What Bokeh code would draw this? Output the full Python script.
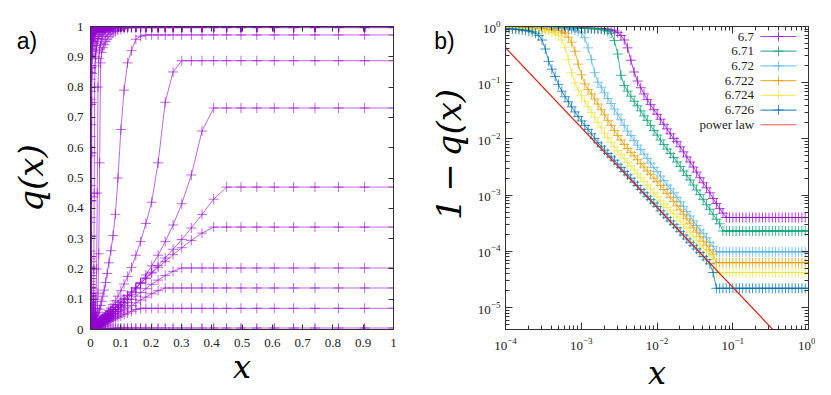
from bokeh.plotting import figure
from bokeh.layouts import row
from bokeh.models import Range1d, FixedTicker, LinearAxis, LogAxis, Label, CustomJSTickFormatter
from bokeh.embed import file_html
from bokeh.resources import INLINE

# ---------------- data ----------------
# sampling grid read off the markers: x_k = exp(-k/10), k = 0..92
x_grid = [
    1.0, 0.9048, 0.8187, 0.7408, 0.6703, 0.6065, 0.5488, 0.4966, 0.4493, 0.4066,
    0.3679, 0.3329, 0.3012, 0.2725, 0.2466, 0.2231, 0.2019, 0.1827, 0.1653, 0.1496,
    0.1353, 0.1225, 0.1108, 0.1003, 0.09072, 0.08208, 0.07427, 0.06721, 0.06081, 0.05502,
    0.04979, 0.04505, 0.04076, 0.03688, 0.03337, 0.03020, 0.02732, 0.02472, 0.02237, 0.02024,
    0.01832, 0.01657, 0.01500, 0.01357, 0.01228, 0.01111, 0.01005, 0.009095, 0.008230, 0.007447,
    0.006738, 0.006097, 0.005517, 0.004992, 0.004517, 0.004087, 0.003698, 0.003346, 0.003028, 0.002739,
    0.002479, 0.002243, 0.002029, 0.001836, 0.001662, 0.001503, 0.001360, 0.001231, 0.001114, 0.001008,
    0.0009119, 0.0008251, 0.0007466, 0.0006755, 0.0006113, 0.0005531, 0.0005005, 0.0004528, 0.0004097, 0.0003707,
    0.0003355, 0.0003035, 0.0002747, 0.0002485, 0.0002249, 0.0002035, 0.0001841, 0.0001666, 0.0001507, 0.0001364,
    0.0001234, 0.0001117, 0.0001010,
]

# panel b): 1 - q(x) for each parameter value
b_labels = ["6.7", "6.71", "6.72", "6.722", "6.724", "6.726"]
b_colors = ["#9400D3", "#009E73", "#56B4E9", "#E69F00", "#F0E442", "#0072B2"]

omq_6_7 = [
    4.0e-4, 4.0e-4, 4.0e-4, 4.0e-4, 4.0e-4, 4.0e-4, 4.0e-4, 4.0e-4, 4.0e-4, 4.0e-4,
    4.0e-4, 4.0e-4, 4.0e-4, 4.0e-4, 4.0e-4, 4.0e-4, 4.0e-4, 4.0e-4, 4.0e-4, 4.0e-4,
    4.0e-4, 4.0e-4, 4.0e-4, 4.0e-4, 4.0e-4, 4.0e-4, 4.79e-4, 5.75e-4, 7.08e-4, 8.71e-4,
    1.10e-3, 1.35e-3, 1.66e-3, 2.04e-3, 2.57e-3, 3.16e-3, 3.89e-3, 4.79e-3, 5.89e-3, 7.24e-3,
    8.91e-3, 1.02e-2, 1.23e-2, 1.51e-2, 1.82e-2, 2.24e-2, 2.75e-2, 3.31e-2, 4.07e-2, 5.01e-2,
    6.31e-2, 8.13e-2, 0.107, 0.155, 0.251, 0.417, 0.575, 0.692, 0.776, 0.832,
    0.863, 0.887, 0.910, 0.918, 0.923, 0.929, 0.933, 0.938, 0.942, 0.946,
    0.951, 0.955, 0.957, 0.959, 0.964, 0.966, 0.968, 0.971, 0.973, 0.975,
    0.977, 0.977, 0.979, 0.979, 0.982, 0.982, 0.984, 0.984, 0.986, 0.986,
    0.986, 0.989, 0.989,
]
omq_6_71 = [
    2.3e-4, 2.3e-4, 2.3e-4, 2.3e-4, 2.3e-4, 2.3e-4, 2.3e-4, 2.3e-4, 2.3e-4, 2.3e-4,
    2.3e-4, 2.3e-4, 2.3e-4, 2.3e-4, 2.3e-4, 2.3e-4, 2.3e-4, 2.3e-4, 2.3e-4, 2.3e-4,
    2.3e-4, 2.3e-4, 2.3e-4, 2.3e-4, 2.3e-4, 2.3e-4, 2.3e-4, 3.09e-4, 3.72e-4, 4.57e-4,
    5.62e-4, 6.76e-4, 8.32e-4, 1.02e-3, 1.23e-3, 1.51e-3, 1.86e-3, 2.24e-3, 2.69e-3, 3.24e-3,
    3.89e-3, 4.68e-3, 5.50e-3, 6.61e-3, 7.94e-3, 9.55e-3, 1.17e-2, 1.41e-2, 1.74e-2, 2.14e-2,
    2.57e-2, 3.16e-2, 3.89e-2, 4.68e-2, 5.75e-2, 7.08e-2, 8.91e-2, 0.135, 0.324, 0.562,
    0.759, 0.822, 0.861, 0.887, 0.900, 0.908, 0.914, 0.920, 0.927, 0.933,
    0.938, 0.942, 0.946, 0.948, 0.951, 0.953, 0.955, 0.957, 0.959, 0.962,
    0.964, 0.966, 0.968, 0.971, 0.973, 0.973, 0.975, 0.975, 0.977, 0.977,
    0.979, 0.979, 0.982,
]
omq_6_72 = [
    9.8e-5, 9.8e-5, 9.8e-5, 9.8e-5, 9.8e-5, 9.8e-5, 9.8e-5, 9.8e-5, 9.8e-5, 9.8e-5,
    9.8e-5, 9.8e-5, 9.8e-5, 9.8e-5, 9.8e-5, 9.8e-5, 9.8e-5, 9.8e-5, 9.8e-5, 9.8e-5,
    9.8e-5, 9.8e-5, 9.8e-5, 9.8e-5, 9.8e-5, 9.8e-5, 9.8e-5, 9.8e-5, 9.8e-5, 1.23e-4,
    1.45e-4, 1.74e-4, 2.09e-4, 2.40e-4, 2.88e-4, 3.47e-4, 4.27e-4, 5.13e-4, 6.31e-4, 7.59e-4,
    9.12e-4, 1.10e-3, 1.29e-3, 1.51e-3, 1.82e-3, 2.19e-3, 2.63e-3, 3.09e-3, 3.72e-3, 4.47e-3,
    5.37e-3, 6.46e-3, 7.76e-3, 9.33e-3, 1.15e-2, 1.38e-2, 1.74e-2, 2.19e-2, 2.75e-2, 3.39e-2,
    4.27e-2, 5.25e-2, 6.61e-2, 8.32e-2, 0.102, 0.151, 0.257, 0.417, 0.631, 0.767,
    0.813, 0.861, 0.881, 0.895, 0.908, 0.918, 0.929, 0.938, 0.944, 0.951,
    0.955, 0.959, 0.962, 0.964, 0.966, 0.968, 0.971, 0.973, 0.973, 0.975,
    0.975, 0.977, 0.977,
]
omq_6_722 = [
    6.3e-5, 6.3e-5, 6.3e-5, 6.3e-5, 6.3e-5, 6.3e-5, 6.3e-5, 6.3e-5, 6.3e-5, 6.3e-5,
    6.3e-5, 6.3e-5, 6.3e-5, 6.3e-5, 6.3e-5, 6.3e-5, 6.3e-5, 6.3e-5, 6.3e-5, 6.3e-5,
    6.3e-5, 6.3e-5, 6.3e-5, 6.3e-5, 6.3e-5, 6.3e-5, 6.3e-5, 6.3e-5, 6.3e-5, 8.9e-5,
    1.07e-4, 1.29e-4, 1.51e-4, 1.82e-4, 2.19e-4, 2.63e-4, 3.16e-4, 3.80e-4, 4.57e-4, 5.50e-4,
    6.46e-4, 7.76e-4, 9.12e-4, 1.07e-3, 1.26e-3, 1.48e-3, 1.74e-3, 2.00e-3, 2.34e-3, 2.69e-3,
    3.16e-3, 3.63e-3, 4.27e-3, 5.01e-3, 5.75e-3, 6.76e-3, 7.94e-3, 9.55e-3, 1.15e-2, 1.41e-2,
    1.74e-2, 2.14e-2, 2.69e-2, 3.31e-2, 4.17e-2, 5.13e-2, 6.31e-2, 7.59e-2, 9.55e-2, 0.138,
    0.214, 0.363, 0.525, 0.646, 0.759, 0.794, 0.851, 0.865, 0.877, 0.889,
    0.902, 0.912, 0.920, 0.927, 0.933, 0.940, 0.944, 0.948, 0.953, 0.957,
    0.959, 0.964, 0.966,
]
omq_6_724 = [
    4.2e-5, 4.2e-5, 4.2e-5, 4.2e-5, 4.2e-5, 4.2e-5, 4.2e-5, 4.2e-5, 4.2e-5, 4.2e-5,
    4.2e-5, 4.2e-5, 4.2e-5, 4.2e-5, 4.2e-5, 4.2e-5, 4.2e-5, 4.2e-5, 4.2e-5, 4.2e-5,
    4.2e-5, 4.2e-5, 4.2e-5, 4.2e-5, 4.2e-5, 4.2e-5, 4.2e-5, 4.2e-5, 4.2e-5, 7.2e-5,
    8.5e-5, 1.0e-4, 1.15e-4, 1.35e-4, 1.58e-4, 1.86e-4, 2.19e-4, 2.57e-4, 2.99e-4, 3.47e-4,
    4.07e-4, 4.68e-4, 5.37e-4, 6.03e-4, 6.92e-4, 7.94e-4, 9.33e-4, 1.10e-3, 1.29e-3, 1.51e-3,
    1.74e-3, 2.04e-3, 2.40e-3, 2.82e-3, 3.31e-3, 3.80e-3, 4.47e-3, 5.25e-3, 6.17e-3, 7.24e-3,
    8.71e-3, 1.05e-2, 1.26e-2, 1.58e-2, 1.95e-2, 2.45e-2, 2.95e-2, 3.72e-2, 4.68e-2, 5.89e-2,
    7.41e-2, 0.100, 0.151, 0.257, 0.427, 0.575, 0.692, 0.741, 0.794, 0.822,
    0.841, 0.861, 0.881, 0.891, 0.902, 0.912, 0.918, 0.925, 0.931, 0.938,
    0.944, 0.951, 0.955,
]
omq_6_726 = [
    2.2e-5, 2.2e-5, 2.2e-5, 2.2e-5, 2.2e-5, 2.2e-5, 2.2e-5, 2.2e-5, 2.2e-5, 2.2e-5,
    2.2e-5, 2.2e-5, 2.2e-5, 2.2e-5, 2.2e-5, 2.2e-5, 2.2e-5, 2.2e-5, 2.2e-5, 2.2e-5,
    2.2e-5, 2.2e-5, 2.2e-5, 2.2e-5, 2.2e-5, 2.2e-5, 2.2e-5, 2.2e-5, 2.2e-5, 4.2e-5,
    6.0e-5, 7.1e-5, 8.1e-5, 9.5e-5, 1.10e-4, 1.26e-4, 1.45e-4, 1.66e-4, 1.95e-4, 2.24e-4,
    2.63e-4, 3.02e-4, 3.47e-4, 3.98e-4, 4.57e-4, 5.25e-4, 6.31e-4, 7.24e-4, 8.32e-4, 9.55e-4,
    1.10e-3, 1.26e-3, 1.48e-3, 1.70e-3, 2.00e-3, 2.29e-3, 2.63e-3, 3.09e-3, 3.55e-3, 4.17e-3,
    4.79e-3, 5.50e-3, 6.31e-3, 7.41e-3, 8.51e-3, 1.02e-2, 1.23e-2, 1.48e-2, 1.74e-2, 2.09e-2,
    2.51e-2, 3.02e-2, 3.72e-2, 4.57e-2, 5.62e-2, 7.08e-2, 9.33e-2, 0.129, 0.174, 0.240,
    0.398, 0.575, 0.692, 0.759, 0.804, 0.832, 0.851, 0.871, 0.881, 0.891,
    0.902, 0.912, 0.923,
]
b_series = [omq_6_7, omq_6_71, omq_6_72, omq_6_722, omq_6_724, omq_6_726]

power_law_label = "power law"
power_law_x = [1.0e-4, 1.0]
power_law_y = [0.42, 8.7e-7]

# panel a): further q(x) curves (points k = 0..60 of the grid)
q_a_000 = [
    0.0, 0.0, 0.0, 0.0, 0.0, 0.0, 0.0, 0.0, 0.0, 0.0,
    0.0, 0.0, 0.0, 0.0, 0.0, 0.0, 0.0, 0.0, 0.0, 0.0,
    0.0, 0.0, 0.0, 0.0, 0.0, 0.0, 0.0, 0.0, 0.0, 0.0,
    0.0, 0.0, 0.0, 0.0, 0.0, 0.0, 0.0, 0.0, 0.0, 0.0,
    0.0, 0.0, 0.0, 0.0, 0.0, 0.0, 0.0, 0.0, 0.0, 0.0,
    0.0, 0.0, 0.0, 0.0, 0.0, 0.0, 0.0, 0.0, 0.0, 0.0,
    0.0,
]
q_a_005 = [
    0.005, 0.005, 0.005, 0.005, 0.005, 0.005, 0.005, 0.005, 0.005, 0.005,
    0.005, 0.005, 0.005, 0.005, 0.005, 0.005, 0.005, 0.005, 0.005, 0.005,
    0.005, 0.005, 0.005, 0.005, 0.0045, 0.0041, 0.0037, 0.0034, 0.0030, 0.0028,
    0.0025, 0.0023, 0.0020, 0.0018, 0.0017, 0.0015, 0.0014, 0.0012, 0.0011, 0.0010,
    0.0009, 0.0008, 0.00075, 0.0007, 0.0006, 0.00055, 0.0005, 0.00045, 0.0004, 0.00037,
    0.00034, 0.0003, 0.00028, 0.00025, 0.00023, 0.0002, 0.00018, 0.00017, 0.00015, 0.00014,
    0.00012,
]
q_a_070 = [
    0.070, 0.070, 0.070, 0.070, 0.070, 0.070, 0.070, 0.070, 0.070, 0.070,
    0.070, 0.070, 0.070, 0.070, 0.070, 0.070, 0.070, 0.070, 0.070, 0.066,
    0.060, 0.054, 0.049, 0.044, 0.040, 0.036, 0.032, 0.029, 0.026, 0.024,
    0.021, 0.019, 0.017, 0.016, 0.014, 0.013, 0.0115, 0.0104, 0.0094, 0.0085,
    0.0077, 0.0070, 0.0063, 0.0057, 0.0052, 0.0047, 0.0042, 0.0038, 0.0034, 0.0031,
    0.0028, 0.0025, 0.0023, 0.0021, 0.0019, 0.0017, 0.0015, 0.0014, 0.0013, 0.0011,
    0.0010,
]
q_a_137 = [
    0.137, 0.137, 0.137, 0.137, 0.137, 0.137, 0.137, 0.137, 0.137, 0.137,
    0.137, 0.137, 0.137, 0.137, 0.137, 0.128, 0.118, 0.107, 0.097, 0.088,
    0.079, 0.071, 0.064, 0.058, 0.052, 0.047, 0.042, 0.038, 0.034, 0.031,
    0.028, 0.025, 0.023, 0.021, 0.019, 0.017, 0.015, 0.014, 0.0125, 0.0113,
    0.0102, 0.0093, 0.0084, 0.0076, 0.0069, 0.0062, 0.0056, 0.0051, 0.0046, 0.0041,
    0.0037, 0.0034, 0.0031, 0.0028, 0.0025, 0.0023, 0.0021, 0.0019, 0.0017, 0.0015,
    0.0014,
]
q_a_203 = [
    0.203, 0.203, 0.203, 0.203, 0.203, 0.203, 0.203, 0.203, 0.203, 0.203,
    0.203, 0.203, 0.203, 0.192, 0.178, 0.163, 0.149, 0.135, 0.122, 0.110,
    0.099, 0.089, 0.080, 0.072, 0.065, 0.059, 0.053, 0.048, 0.043, 0.039,
    0.035, 0.032, 0.029, 0.026, 0.023, 0.021, 0.019, 0.017, 0.0155, 0.014,
    0.0126, 0.0114, 0.0103, 0.0093, 0.0084, 0.0076, 0.0069, 0.0062, 0.0056, 0.0051,
    0.0046, 0.0042, 0.0038, 0.0034, 0.0031, 0.0028, 0.0025, 0.0023, 0.0021, 0.0019,
    0.0017,
]
q_a_338 = [
    0.338, 0.338, 0.338, 0.338, 0.338, 0.338, 0.338, 0.338, 0.338, 0.338,
    0.318, 0.294, 0.270, 0.247, 0.225, 0.205, 0.186, 0.168, 0.152, 0.137,
    0.123, 0.111, 0.100, 0.090, 0.081, 0.073, 0.066, 0.059, 0.053, 0.048,
    0.043, 0.039, 0.035, 0.032, 0.029, 0.026, 0.023, 0.021, 0.019, 0.017,
    0.0155, 0.014, 0.0126, 0.0114, 0.0103, 0.0093, 0.0084, 0.0076, 0.0068, 0.0062,
    0.0056, 0.0050, 0.0045, 0.0041, 0.0037, 0.0033, 0.0030, 0.0027, 0.0025, 0.0022,
    0.0020,
]
q_a_470 = [
    0.470, 0.470, 0.470, 0.470, 0.470, 0.470, 0.470, 0.470, 0.470, 0.430,
    0.380, 0.335, 0.297, 0.265, 0.236, 0.211, 0.189, 0.170, 0.153, 0.138,
    0.124, 0.112, 0.101, 0.091, 0.082, 0.074, 0.066, 0.060, 0.054, 0.048,
    0.044, 0.039, 0.035, 0.032, 0.029, 0.026, 0.023, 0.021, 0.019, 0.017,
    0.015, 0.0135, 0.0121, 0.0109, 0.0098, 0.0088, 0.0079, 0.0071, 0.0064, 0.0058,
    0.0052, 0.0047, 0.0042, 0.0038, 0.0034, 0.0031, 0.0028, 0.0025, 0.0022, 0.0020,
    0.0018,
]
q_a_731 = [
    0.731, 0.731, 0.731, 0.731, 0.731, 0.731, 0.731, 0.731, 0.731, 0.731,
    0.655, 0.510, 0.415, 0.345, 0.290, 0.245, 0.210, 0.180, 0.155, 0.134,
    0.116, 0.101, 0.088, 0.077, 0.067, 0.059, 0.052, 0.046, 0.040, 0.036,
    0.032, 0.028, 0.025, 0.022, 0.020, 0.018, 0.016, 0.014, 0.0125, 0.011,
    0.010, 0.009, 0.008, 0.0072, 0.0064, 0.0058, 0.0052, 0.0046, 0.0042, 0.0037,
    0.0034, 0.0030, 0.0027, 0.0024, 0.0022, 0.0020, 0.0018, 0.0016, 0.0014, 0.0013,
    0.0012,
]
q_a_887 = [
    0.887, 0.887, 0.887, 0.887, 0.887, 0.887, 0.887, 0.887, 0.887, 0.887,
    0.887, 0.887, 0.887, 0.850, 0.750, 0.550, 0.420, 0.350, 0.290, 0.245,
    0.205, 0.175, 0.150, 0.128, 0.110, 0.095, 0.082, 0.071, 0.062, 0.054,
    0.047, 0.041, 0.036, 0.031, 0.027, 0.024, 0.021, 0.018, 0.016, 0.014,
    0.012, 0.011, 0.0095, 0.0084, 0.0074, 0.0065, 0.0057, 0.0050, 0.0044, 0.0039,
    0.0034, 0.0030, 0.0027, 0.0024, 0.0021, 0.0018, 0.0016, 0.0014, 0.0013, 0.0011,
    0.0010,
]
q_a_972 = [
    0.972, 0.972, 0.972, 0.972, 0.972, 0.972, 0.972, 0.972, 0.972, 0.972,
    0.972, 0.972, 0.972, 0.972, 0.972, 0.972, 0.972, 0.972, 0.968, 0.958,
    0.920, 0.880, 0.790, 0.660, 0.500, 0.380, 0.310, 0.260, 0.220, 0.185,
    0.155, 0.130, 0.110, 0.093, 0.079, 0.067, 0.057, 0.048, 0.041, 0.035,
    0.030, 0.025, 0.021, 0.018, 0.015, 0.013, 0.011, 0.0093, 0.0079, 0.0067,
    0.0057, 0.0048, 0.0041, 0.0035, 0.0030, 0.0025, 0.0021, 0.0018, 0.0015, 0.0013,
    0.0011,
]
q_a_996 = [
    0.996, 0.996, 0.996, 0.996, 0.996, 0.996, 0.996, 0.996, 0.996, 0.996,
    0.996, 0.996, 0.996, 0.996, 0.996, 0.996, 0.996, 0.996, 0.996, 0.996,
    0.996, 0.995, 0.993, 0.990, 0.987, 0.983, 0.978, 0.972, 0.966, 0.958,
    0.950, 0.940, 0.930, 0.915, 0.880, 0.550, 0.250, 0.120, 0.070, 0.045,
    0.030, 0.020, 0.014, 0.010, 0.007, 0.005, 0.0035, 0.0025, 0.0018, 0.0013,
    0.0010, 0.0007, 0.0005, 0.0004, 0.0003, 0.0002, 0.00015, 0.0001, 0.0001, 0.0001,
    0.0001,
]
q_a_998 = [
    0.998, 0.998, 0.998, 0.998, 0.998, 0.998, 0.998, 0.998, 0.998, 0.998,
    0.998, 0.998, 0.998, 0.998, 0.998, 0.998, 0.998, 0.998, 0.998, 0.998,
    0.998, 0.998, 0.998, 0.997, 0.996, 0.995, 0.993, 0.991, 0.988, 0.985,
    0.980, 0.975, 0.968, 0.958, 0.945, 0.925, 0.895, 0.800, 0.450, 0.200,
    0.100, 0.055, 0.033, 0.021, 0.014, 0.0095, 0.0065, 0.0045, 0.0030, 0.0020,
    0.0014, 0.0010, 0.0007, 0.0005, 0.0004, 0.0003, 0.0002, 0.00015, 0.0001, 0.0001,
    0.0001,
]
q_a_999 = [
    0.999, 0.999, 0.999, 0.999, 0.999, 0.999, 0.999, 0.999, 0.999, 0.999,
    0.999, 0.999, 0.999, 0.999, 0.999, 0.999, 0.999, 0.999, 0.999, 0.999,
    0.999, 0.999, 0.999, 0.999, 0.999, 0.9985, 0.998, 0.997, 0.996, 0.995,
    0.993, 0.991, 0.988, 0.985, 0.980, 0.975, 0.968, 0.960, 0.950, 0.937,
    0.920, 0.900, 0.870, 0.800, 0.450, 0.200, 0.100, 0.050, 0.030, 0.018,
    0.011, 0.007, 0.0045, 0.003, 0.002, 0.0013, 0.0009, 0.0006, 0.0004, 0.0003,
    0.0002,
]
a_series = [q_a_000, q_a_005, q_a_070, q_a_137, q_a_203, q_a_338, q_a_470,
            q_a_731, q_a_887, q_a_972, q_a_996, q_a_998, q_a_999]

# axis ticks
a_ticks = [0, 0.1, 0.2, 0.3, 0.4, 0.5, 0.6, 0.7, 0.8, 0.9, 1]
a_tick_labels = ["0", "0.1", "0.2", "0.3", "0.4", "0.5", "0.6", "0.7", "0.8", "0.9", "1"]
b_x_ticks = [1e-4, 1e-3, 1e-2, 1e-1, 1.0]
b_y_ticks = [1e-5, 1e-4, 1e-3, 1e-2, 1e-1, 1.0]
b_x_minor = [m * 10.0 ** e for e in range(-4, 0) for m in range(2, 10)]
b_y_minor = [m * 10.0 ** e for e in range(-6, 0) for m in range(2, 10)]

# ---------------- style ----------------
PURPLE = "#9400D3"
RED = "#E51E10"
FRAME = "#333333"
TXT = "#222222"
SERIF = "Liberation Serif"
MATH = "DejaVu Serif"
SANS = "Liberation Sans"
H = 360   # frame height of the label strips (their tops line up with the plot frames)


def style_axis(ax, major_len, minor_len, show_labels=True, standoff=6):
    ax.axis_line_color = FRAME
    ax.axis_line_width = 1
    ax.major_tick_line_color = FRAME
    ax.minor_tick_line_color = FRAME if minor_len else None
    ax.major_tick_in = major_len
    ax.major_tick_out = 0
    ax.minor_tick_in = minor_len
    ax.minor_tick_out = 0
    ax.major_label_text_font = SERIF
    ax.major_label_text_color = TXT
    if show_labels:
        ax.major_label_text_font_size = "13px"
        ax.major_label_standoff = standoff
    else:
        ax.major_label_text_font_size = "0px"
        ax.major_label_standoff = 0
        ax.formatter = CustomJSTickFormatter(code="return '';")


def style_xlabel(ax, text, standoff):
    ax.axis_label = text
    ax.axis_label_text_font = MATH
    ax.axis_label_text_font_style = "italic"
    ax.axis_label_text_font_size = "32px"
    ax.axis_label_text_color = "black"
    ax.axis_label_standoff = standoff


def base_fig(**kw):
    p = figure(frame_width=303, frame_height=303, output_backend="svg",
               toolbar_location=None, background_fill_color="white",
               border_fill_color="white", title=None, align="start", **kw)
    p.grid.visible = False
    p.outline_line_color = FRAME
    p.outline_line_width = 1
    return p


def label_strip(width):
    p = figure(frame_width=width, frame_height=H, x_range=Range1d(0, width),
               y_range=Range1d(0, H), min_border=0, x_axis_location=None,
               y_axis_location=None, toolbar_location=None, output_backend="svg",
               background_fill_color="white", border_fill_color="white", title=None,
               align="start")
    p.grid.visible = False
    p.outline_line_color = None
    return p


def big_label(p, x, y, text, rotate=False):
    p.add_layout(Label(x=x, y=y, text=text, angle=1.5707963 if rotate else 0,
                       text_font=MATH, text_font_style="italic", text_font_size="34px",
                       text_align="center", text_baseline="middle", text_color="black"))


def panel_tag(p, x, y, text):
    p.add_layout(Label(x=x, y=y, text=text, text_font=SANS, text_font_size="23px",
                       text_align="center", text_baseline="middle", text_color="black"))


# ---------------- label strip for panel a ----------------
sa = label_strip(60)
panel_tag(sa, 26.5, 346, "a)")
big_label(sa, 30, 208.5, "q(x)", rotate=True)

# ---------------- panel a ----------------
pa = base_fig(x_range=Range1d(0, 1), y_range=Range1d(0, 1),
              min_border_left=30, min_border_right=5,
              min_border_top=18, min_border_bottom=66)

a_fmt = CustomJSTickFormatter(args=dict(tvals=a_ticks, tlabels=a_tick_labels), code="""
for (let i = 0; i < tvals.length; i++) {
  if (Math.abs(tick - tvals[i]) < 1e-9) { return tlabels[i]; }
}
return '';
""")
pa.xaxis[0].ticker = FixedTicker(ticks=a_ticks)
pa.xaxis[0].formatter = a_fmt
style_axis(pa.xaxis[0], 5, 0, standoff=9)
pa.yaxis[0].ticker = FixedTicker(ticks=a_ticks)
pa.yaxis[0].formatter = a_fmt
style_axis(pa.yaxis[0], 5, 0, standoff=7)
style_xlabel(pa.xaxis[0], "x", -2)
for side in ("above", "right"):
    ax = LinearAxis(ticker=FixedTicker(ticks=a_ticks))
    style_axis(ax, 5, 0, show_labels=False)
    pa.add_layout(ax, side)

A_ALPHA = 0.6
for q in a_series:
    xs = x_grid[:len(q)]
    pa.line(xs, q, line_color=PURPLE, line_alpha=A_ALPHA, line_width=1)
    pa.scatter(xs, q, marker="cross", size=10, line_color=PURPLE,
               line_alpha=A_ALPHA, line_width=1)
for omq in b_series:
    q = [1.0 - v for v in omq]
    xs = x_grid[:len(q)]
    pa.line(xs, q, line_color=PURPLE, line_alpha=A_ALPHA, line_width=1)
    pa.scatter(xs, q, marker="cross", size=10, line_color=PURPLE,
               line_alpha=A_ALPHA, line_width=1)

# ---------------- label strip for panel b ----------------
sb = label_strip(73)
panel_tag(sb, 46, 346, "b)")
big_label(sb, 50, 232, "1\u2009\u2212\u2009q(x)", rotate=True)

# ---------------- panel b ----------------
pb = base_fig(x_axis_type="log", y_axis_type="log",
              x_range=Range1d(1e-4, 1.0), y_range=Range1d(4.07e-6, 1.0),
              min_border_left=34, min_border_right=7,
              min_border_top=26, min_border_bottom=62)
pb.xaxis[0].ticker = FixedTicker(ticks=b_x_ticks, minor_ticks=b_x_minor)
pb.yaxis[0].ticker = FixedTicker(ticks=b_y_ticks, minor_ticks=b_y_minor)
style_axis(pb.xaxis[0], 7, 4, standoff=8)
style_axis(pb.yaxis[0], 7, 4, standoff=5)
style_xlabel(pb.xaxis[0], "x", 1)
ax = LogAxis(ticker=FixedTicker(ticks=b_x_ticks, minor_ticks=b_x_minor))
style_axis(ax, 7, 4, show_labels=False)
pb.add_layout(ax, "above")
ax = LogAxis(ticker=FixedTicker(ticks=b_y_ticks, minor_ticks=b_y_minor))
style_axis(ax, 7, 4, show_labels=False)
pb.add_layout(ax, "right")

B_ALPHA = 0.75
for omq, col in zip(b_series, b_colors):
    xs = x_grid[:len(omq)]
    pb.line(xs, omq, line_color=col, line_alpha=B_ALPHA, line_width=1)
    pb.scatter(xs, omq, marker="cross", size=10, line_color=col,
               line_alpha=B_ALPHA, line_width=1)
pb.line(power_law_x, power_law_y, line_color=RED, line_width=1.2)

# legend (gnuplot style: text right-aligned, sample to its right)
LEG_TEXT_X = 10 ** -0.718
LEG_X0, LEG_X1, LEG_XM = 10 ** -0.634, 10 ** -0.158, 10 ** -0.396
LEG_TOP, LEG_STEP = -0.178, 0.2616
leg_labels = b_labels + [power_law_label]
leg_colors = b_colors + [RED]
for i, (lab, col) in enumerate(zip(leg_labels, leg_colors)):
    yy = 10 ** (LEG_TOP - i * LEG_STEP)
    pb.add_layout(Label(x=LEG_TEXT_X, y=yy, text=lab, text_font=SERIF,
                        text_font_size="13px", text_align="right",
                        text_baseline="middle", text_color=TXT))
    pb.line([LEG_X0, LEG_X1], [yy, yy], line_color=col, line_alpha=B_ALPHA, line_width=1.2)
    if lab != power_law_label:
        pb.scatter([LEG_XM], [yy], marker="cross", size=10, line_color=col,
                   line_alpha=B_ALPHA, line_width=1)

layout = row(sa, pa, sb, pb, align="start")
open("out.html", "w").write(file_html(layout, INLINE))
